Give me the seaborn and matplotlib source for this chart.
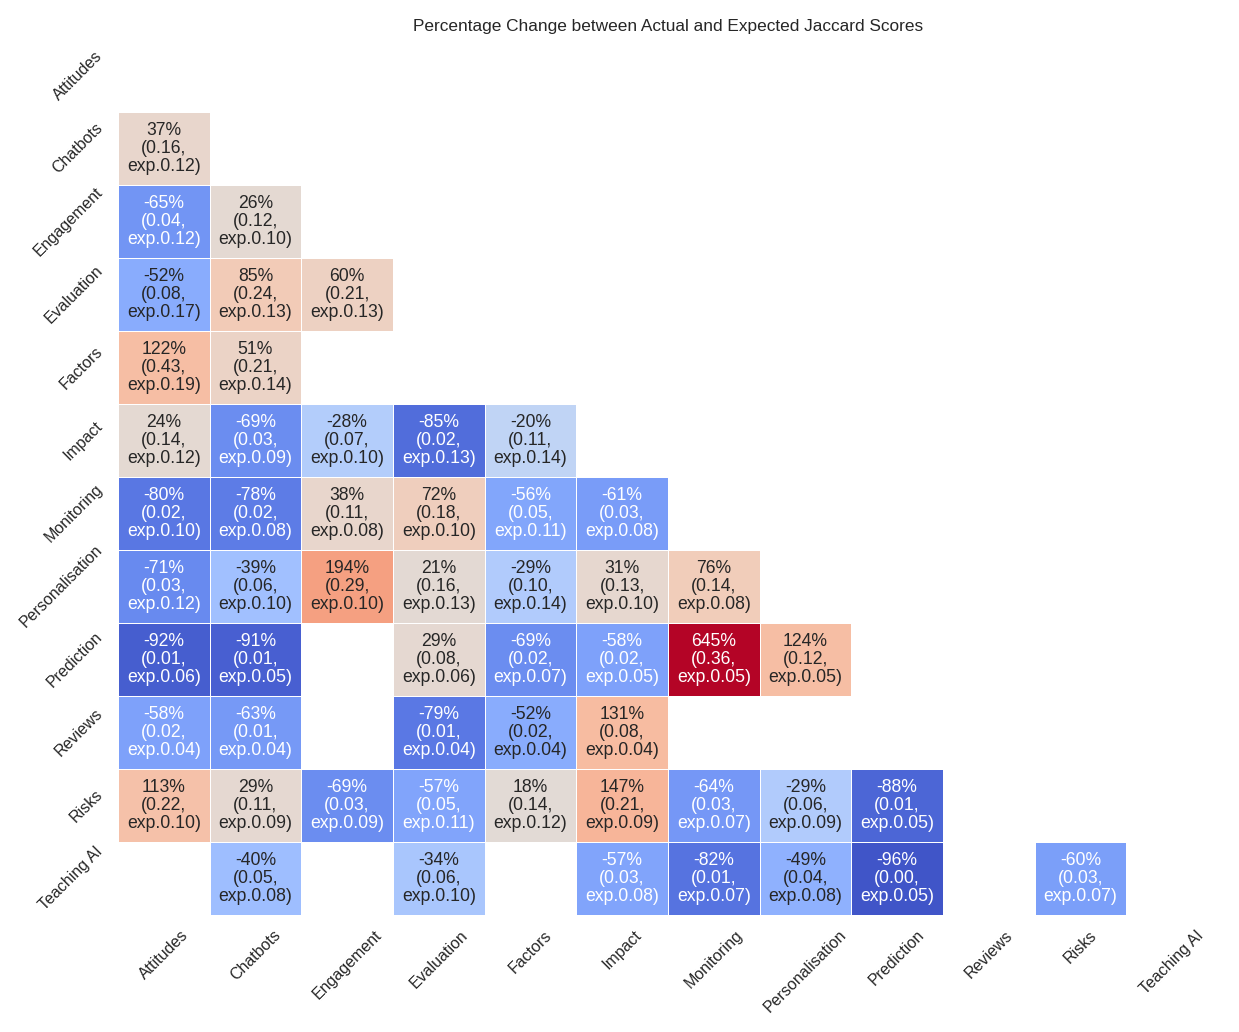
import numpy as np
import pandas as pd
import matplotlib
matplotlib.use("Agg")
import matplotlib.pyplot as plt
import seaborn as sns
from matplotlib.colors import TwoSlopeNorm

nan = np.nan

topics = ["Attitudes", "Chatbots", "Engagement", "Evaluation", "Factors", "Impact",
          "Monitoring", "Personalisation", "Prediction", "Reviews", "Risks", "Teaching AI"]

# lower triangle rows (columns 0..i-1), percentage change
pct_rows = [
    [],
    [37],
    [-65, 26],
    [-52, 85, 60],
    [122, 51, nan, nan],
    [24, -69, -28, -85, -20],
    [-80, -78, 38, 72, -56, -61],
    [-71, -39, 194, 21, -29, 31, 76],
    [-92, -91, nan, 29, -69, -58, 645, 124],
    [-58, -63, nan, -79, -52, 131, nan, nan, nan],
    [113, 29, -69, -57, 18, 147, -64, -29, -88, nan],
    [nan, -40, nan, -34, nan, -57, -82, -49, -96, nan, -60],
]

# actual jaccard scores
actual_rows = [
    [],
    [0.16],
    [0.04, 0.12],
    [0.08, 0.24, 0.21],
    [0.43, 0.21, nan, nan],
    [0.14, 0.03, 0.07, 0.02, 0.11],
    [0.02, 0.02, 0.11, 0.18, 0.05, 0.03],
    [0.03, 0.06, 0.29, 0.16, 0.10, 0.13, 0.14],
    [0.01, 0.01, nan, 0.08, 0.02, 0.02, 0.36, 0.12],
    [0.02, 0.01, nan, 0.01, 0.02, 0.08, nan, nan, nan],
    [0.22, 0.11, 0.03, 0.05, 0.14, 0.21, 0.03, 0.06, 0.01, nan],
    [nan, 0.05, nan, 0.06, nan, 0.03, 0.01, 0.04, 0.00, nan, 0.03],
]

# expected jaccard scores
expected_rows = [
    [],
    [0.12],
    [0.12, 0.10],
    [0.17, 0.13, 0.13],
    [0.19, 0.14, nan, nan],
    [0.12, 0.09, 0.10, 0.13, 0.14],
    [0.10, 0.08, 0.08, 0.10, 0.11, 0.08],
    [0.12, 0.10, 0.10, 0.13, 0.14, 0.10, 0.08],
    [0.06, 0.05, nan, 0.06, 0.07, 0.05, 0.05, 0.05],
    [0.04, 0.04, nan, 0.04, 0.04, 0.04, nan, nan, nan],
    [0.10, 0.09, 0.09, 0.11, 0.12, 0.09, 0.07, 0.09, 0.05, nan],
    [nan, 0.08, nan, 0.10, nan, 0.08, 0.07, 0.08, 0.05, nan, 0.07],
]


def to_square(rows):
    n = len(topics)
    arr = np.full((n, n), nan)
    for i, r in enumerate(rows):
        arr[i, :len(r)] = r
    return arr


pct = to_square(pct_rows)
actual = to_square(actual_rows)
expected = to_square(expected_rows)

annot = np.full(pct.shape, "", dtype=object)
for i in range(pct.shape[0]):
    for j in range(pct.shape[1]):
        if not np.isnan(pct[i, j]):
            annot[i, j] = f"{pct[i, j]:.0f}%\n({actual[i, j]:.2f},\nexp.{expected[i, j]:.2f})"

df = pd.DataFrame(pct, index=topics, columns=topics)
mask = np.isnan(pct)

sns.set_theme(style="white")
plt.rcParams['font.family'] = ['Liberation Sans', 'DejaVu Sans']

fig = plt.figure(figsize=(12.39, 10.32), dpi=100)
ax = fig.add_axes([0.0952, 0.1134, 0.8878, 0.8488])

# red side saturates well before the 645% outlier
norm = TwoSlopeNorm(vmin=-100, vcenter=0, vmax=420)
sns.heatmap(df, mask=mask, annot=annot, fmt="", cmap="coolwarm", norm=norm,
            cbar=False, linewidths=0.4, linecolor="white",
            annot_kws={"fontsize": 12.7, "linespacing": 1.1}, ax=ax)

ax.set_title("Percentage Change between Actual and Expected Jaccard Scores", fontsize=12.4, pad=6)
ax.set_xticklabels(ax.get_xticklabels(), rotation=45, ha="center", fontsize=11.5)
ax.set_yticklabels(ax.get_yticklabels(), rotation=45, va="center", fontsize=11.5)
ax.tick_params(length=0, pad=9)

fig.savefig("out.png", dpi=100)
